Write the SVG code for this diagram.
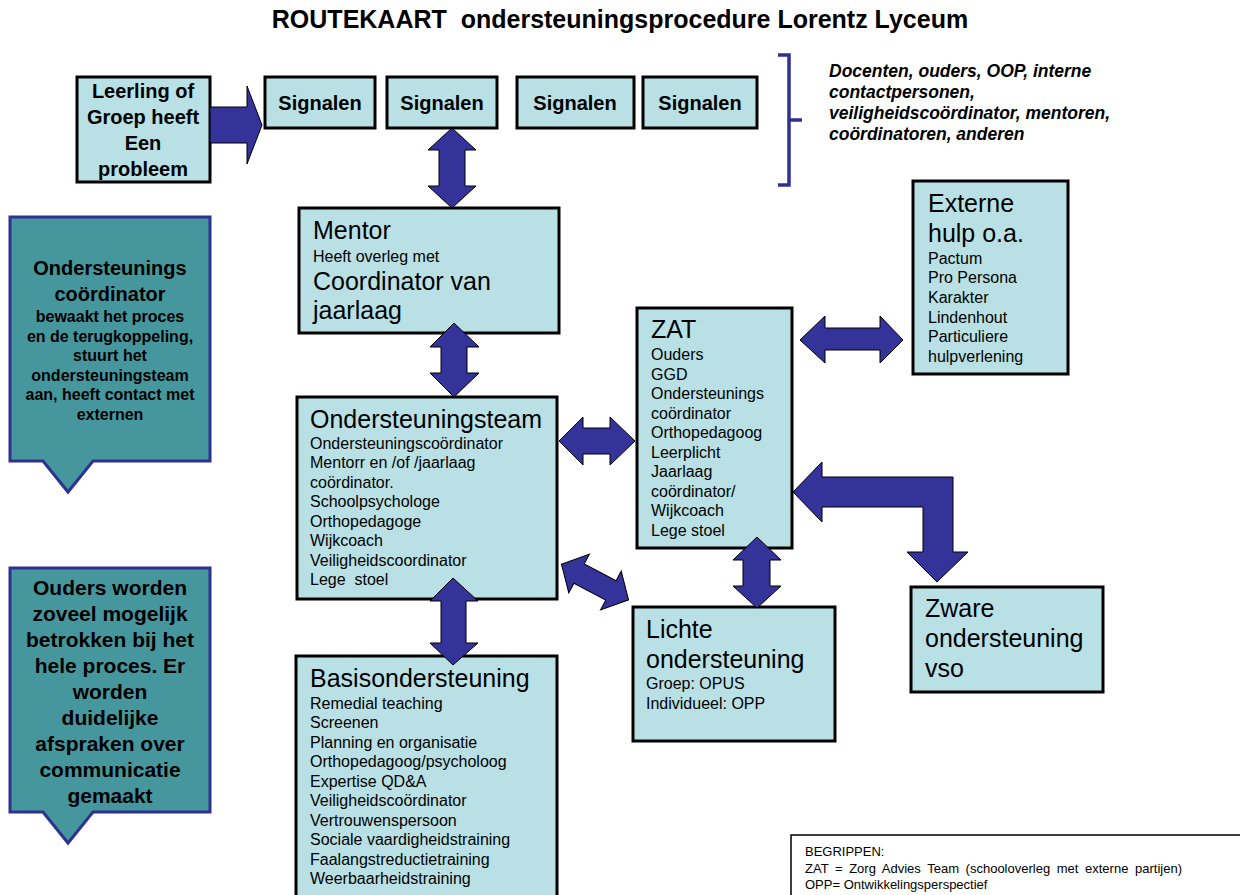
<svg xmlns="http://www.w3.org/2000/svg" width="1240" height="895" viewBox="0 0 1240 895">
<style>
  text { font-family: "Liberation Sans", Arial, sans-serif; fill: #000; }
  .box { fill: #b9e0e4; stroke: #000; stroke-width: 3; }
  .call { fill: #46979d; stroke: #2e3192; stroke-width: 3; }
  .arr { fill: #333399; stroke: #000; stroke-width: 1; }
  .b20 { font-size: 20px; font-weight: bold; text-anchor: middle; }
  .t25 { font-size: 25px; }
  .t16 { font-size: 16px; }
  .cb20 { font-size: 20px; font-weight: bold; text-anchor: middle; }
  .cb16 { font-size: 16px; font-weight: bold; text-anchor: middle; }
  .cb21 { font-size: 21px; font-weight: bold; text-anchor: middle; }
</style>
<rect width="1240" height="895" fill="#fff"/>
<text x="620" y="28" xml:space="preserve" style="font-size:25px;font-weight:bold;text-anchor:middle">ROUTEKAART  ondersteuningsprocedure Lorentz Lyceum</text>

<g id="leerling">
  <rect class="box" x="77" y="77" width="133" height="105"/>
  <text class="b20" x="143" y="98">Leerling of</text>
  <text class="b20" x="143" y="124">Groep heeft</text>
  <text class="b20" x="143" y="150">Een</text>
  <text class="b20" x="143" y="176">probleem</text>
</g>
<g id="signalen1">
  <rect class="box" x="265" y="77" width="110" height="51"/>
  <text class="b20" x="320" y="110">Signalen</text>
</g>
<g id="signalen2">
  <rect class="box" x="387" y="77" width="110" height="51"/>
  <text class="b20" x="442" y="110">Signalen</text>
</g>
<g id="signalen3">
  <rect class="box" x="517" y="77" width="117" height="51"/>
  <text class="b20" x="575" y="110">Signalen</text>
</g>
<g id="signalen4">
  <rect class="box" x="643" y="77" width="114" height="51"/>
  <text class="b20" x="700" y="110">Signalen</text>
</g>
<g id="bron">
  <path d="M778,55 H789 V120 H802 M789,120 V185 H778" fill="none" stroke="#2e3192" stroke-width="3.5"/>
  <g style="font-size:17.5px;font-weight:bold;font-style:italic">
    <text x="829" y="77">Docenten, ouders, OOP, interne</text>
    <text x="829" y="98">contactpersonen,</text>
    <text x="829" y="119">veiligheidscoördinator, mentoren,</text>
    <text x="829" y="140">coördinatoren, anderen</text>
  </g>
</g>

<g id="callout-coordinator">
  <path class="call" d="M10,217 H210 V461 H93 L68,492 L43,461 H10 Z"/>
  <text class="cb20" x="110" y="275">Ondersteunings</text>
  <text class="cb20" x="110" y="301">coördinator</text>
  <text class="cb16" x="110" y="322">bewaakt het proces</text>
  <text class="cb16" x="110" y="342">en de terugkoppeling,</text>
  <text class="cb16" x="110" y="361">stuurt het</text>
  <text class="cb16" x="110" y="381">ondersteuningsteam</text>
  <text class="cb16" x="110" y="400">aan, heeft contact met</text>
  <text class="cb16" x="110" y="420">externen</text>
</g>
<g id="callout-ouders">
  <path class="call" d="M10,568 H210 V812 H93 L68,843 L43,812 H10 Z"/>
  <text class="cb21" x="110" y="595">Ouders worden</text>
  <text class="cb21" x="110" y="621">zoveel mogelijk</text>
  <text class="cb21" x="110" y="647">betrokken bij het</text>
  <text class="cb21" x="110" y="673">hele proces. Er</text>
  <text class="cb21" x="110" y="699">worden</text>
  <text class="cb21" x="110" y="725">duidelijke</text>
  <text class="cb21" x="110" y="751">afspraken over</text>
  <text class="cb21" x="110" y="777">communicatie</text>
  <text class="cb21" x="110" y="803">gemaakt</text>
</g>

<g id="mentor">
  <rect class="box" x="299" y="208" width="260" height="125"/>
  <text class="t25" x="313" y="239">Mentor</text>
  <text class="t16" x="313" y="262">Heeft overleg met</text>
  <text class="t25" x="313" y="290">Coordinator van</text>
  <text class="t25" x="313" y="319">jaarlaag</text>
</g>
<g id="ondersteuningsteam">
  <rect class="box" x="297" y="397" width="260" height="202"/>
  <text class="t25" x="310" y="428">Ondersteuningsteam</text>
  <text class="t16" x="310" y="449">Ondersteuningscoördinator</text>
  <text class="t16" x="310" y="468">Mentorr en /of /jaarlaag</text>
  <text class="t16" x="310" y="488">coördinator.</text>
  <text class="t16" x="310" y="507">Schoolpsychologe</text>
  <text class="t16" x="310" y="527">Orthopedagoge</text>
  <text class="t16" x="310" y="546">Wijkcoach</text>
  <text class="t16" x="310" y="566">Veiligheidscoordinator</text>
  <text class="t16" x="310" y="585" xml:space="preserve">Lege  stoel</text>
</g>
<g id="zat">
  <rect class="box" x="637" y="308" width="155" height="240"/>
  <text class="t25" x="651" y="338">ZAT</text>
  <text class="t16" x="651" y="360">Ouders</text>
  <text class="t16" x="651" y="380">GGD</text>
  <text class="t16" x="651" y="399">Ondersteunings</text>
  <text class="t16" x="651" y="419">coördinator</text>
  <text class="t16" x="651" y="438">Orthopedagoog</text>
  <text class="t16" x="651" y="458">Leerplicht</text>
  <text class="t16" x="651" y="477">Jaarlaag</text>
  <text class="t16" x="651" y="497">coördinator/</text>
  <text class="t16" x="651" y="516">Wijkcoach</text>
  <text class="t16" x="651" y="536">Lege stoel</text>
</g>
<g id="externe-hulp">
  <rect class="box" x="913" y="181" width="155" height="193"/>
  <text class="t25" x="928" y="212">Externe</text>
  <text class="t25" x="928" y="242">hulp o.a.</text>
  <text class="t16" x="928" y="264">Pactum</text>
  <text class="t16" x="928" y="283">Pro Persona</text>
  <text class="t16" x="928" y="303">Karakter</text>
  <text class="t16" x="928" y="323">Lindenhout</text>
  <text class="t16" x="928" y="342">Particuliere</text>
  <text class="t16" x="928" y="362">hulpverlening</text>
</g>
<g id="zware-ondersteuning">
  <rect class="box" x="911" y="587" width="192" height="105"/>
  <text class="t25" x="925" y="617">Zware</text>
  <text class="t25" x="925" y="647">ondersteuning</text>
  <text class="t25" x="925" y="677">vso</text>
</g>
<g id="lichte-ondersteuning">
  <rect class="box" x="633" y="607" width="202" height="134"/>
  <text class="t25" x="646" y="638">Lichte</text>
  <text class="t25" x="646" y="668">ondersteuning</text>
  <text class="t16" x="646" y="689">Groep: OPUS</text>
  <text class="t16" x="646" y="709">Individueel: OPP</text>
</g>
<g id="basisondersteuning">
  <rect class="box" x="296" y="656" width="261" height="250"/>
  <text class="t25" x="310" y="687">Basisondersteuning</text>
  <text class="t16" x="310" y="709">Remedial teaching</text>
  <text class="t16" x="310" y="728">Screenen</text>
  <text class="t16" x="310" y="748">Planning en organisatie</text>
  <text class="t16" x="310" y="767">Orthopedagoog/psycholoog</text>
  <text class="t16" x="310" y="787">Expertise QD&amp;A</text>
  <text class="t16" x="310" y="806">Veiligheidscoördinator</text>
  <text class="t16" x="310" y="826">Vertrouwenspersoon</text>
  <text class="t16" x="310" y="845">Sociale vaardigheidstraining</text>
  <text class="t16" x="310" y="865">Faalangstreductietraining</text>
  <text class="t16" x="310" y="884">Weerbaarheidstraining</text>
</g>
<g id="begrippen">
  <rect x="791" y="835" width="460" height="70" fill="#fff" stroke="#000" stroke-width="1.5"/>
  <g style="font-size:13px">
    <text x="805" y="856">BEGRIPPEN:</text>
    <text x="805" y="873" style="word-spacing:3px">ZAT = Zorg Advies Team (schooloverleg met externe partijen)</text>
    <text x="805" y="889">OPP= Ontwikkelingsperspectief</text>
  </g>
</g>

<g id="connectors">
  <path class="arr" d="M210,107 H247 V86 L262,125 L247,164 V143 H210 Z"/>
  <path class="arr" d="M452,128 L476,150 H465 V186 H476 L452,208 L428,186 H439 V150 H428 Z"/>
  <path class="arr" d="M454,323 L479,347 H467 V373 H479 L454,397 L430,373 H441 V347 H430 Z"/>
  <path class="arr" d="M559,441 L583,417 V428 H610 V417 L635,441 L610,465 V454 H583 V465 Z"/>
  <path class="arr" d="M800,340 L825,316 V328 H880 V316 L903,340 L880,363 V350 H825 V363 Z"/>
  <path class="arr" d="M793,492 L822,462 V477 H953 V552 H968 L937,582 L907,552 H923 V507 H822 V522 Z"/>
  <path class="arr" d="M757,537 L781,560 H770 V586 H781 L757,608 L733,586 H743 V560 H733 Z"/>
  <path class="arr" d="M453,578 L478,601 H466 V643 H478 L453,665 L430,643 H441 V601 H430 Z"/>
  <path class="arr" transform="translate(595,582) rotate(28)" d="M-38,0 L-18,-22 V-11 H18 V-22 L38,0 L18,22 V11 H-18 V22 Z"/>
</g>
</svg>
